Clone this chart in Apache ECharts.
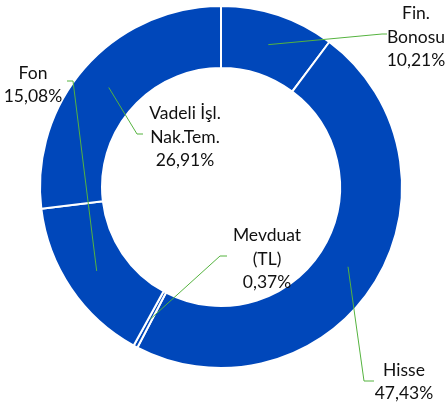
<!DOCTYPE html>
<html>
<head>
<meta charset="utf-8">
<script src="https://cdn.jsdelivr.net/npm/echarts@6/dist/echarts.min.js"></script>
<style>
  html, body { margin: 0; padding: 0; background: #fff; }
  #main { width: 446px; height: 410px; }
</style>
</head>
<body>
<div id="main"></div>
<script>
// dilimler saat yönünde, tepeden başlayarak
var names = ['Fin.\nBonosu', 'Hisse', 'Mevduat\n(TL)', 'Fon', 'Vadeli İşl.\nNak.Tem.']
var values = [10.21, 47.43, 0.37, 15.08, 26.91]
var valueLabels = ['10,21%', '47,43%', '0,37%', '15,08%', '26,91%']

// etiket merkezleri ve bağlantı çizgisi uçları (dirsek x, y, uç x)
var labelPos = [[416, 37], [404, 382], [267, 259], [33, 85], [185, 137]]
var lineEnds = [[382, 34, 387], [364, 381, 374], [220, 256, 227], [73, 81, 67], [137, 134, 143]]

var chart = echarts.init(document.getElementById('main'))

var seriesData = names.map(function (n, i) {
    return { name: n, value: values[i] }
})

var option = {
    animation: false,
    series: [{
        type: 'pie',
        center: [221, 187],
        radius: [119, 181],
        startAngle: 90,
        clockwise: true,
        minAngle: 0,
        avoidLabelOverlap: false,
        itemStyle: {
            color: '#0047BA',
            borderColor: '#ffffff',
            borderWidth: 2
        },
        emphasis: { disabled: true },
        label: {
            show: true,
            position: 'outside',
            color: '#111111',
            fontFamily: 'Lato',
            fontSize: 17.5,
            lineHeight: 23.3,
            align: 'center',
            formatter: function (p) {
                return p.name + '\n' + valueLabels[p.dataIndex]
            }
        },
        labelLine: { show: false },
        labelLayout: function (params) {
            var pos = labelPos[params.dataIndex]
            return {
                x: pos[0],
                y: pos[1],
                align: 'center',
                verticalAlign: 'middle'
            }
        },
        data: seriesData
    }]
}

chart.setOption(option)

// bağlantı çizgileri: halkanın ortasından etikete
var pieData = chart.getModel().getSeriesByIndex(0).getData()
var guides = []
for (var i = 0; i < values.length; i++) {
    var lay = pieData.getItemLayout(i)
    var a = (lay.startAngle + lay.endAngle) / 2
    var rm = (lay.r + lay.r0) / 2
    var le = lineEnds[i]
    guides.push({
        type: 'polyline',
        silent: true,
        z: 10,
        shape: {
            points: [
                [lay.cx + rm * Math.cos(a), lay.cy + rm * Math.sin(a)],
                [le[0], le[1]],
                [le[2], le[1]]
            ]
        },
        style: { stroke: '#55B33F', lineWidth: 1, fill: null }
    })
}
chart.setOption({ graphic: guides })
</script>
</body>
</html>
